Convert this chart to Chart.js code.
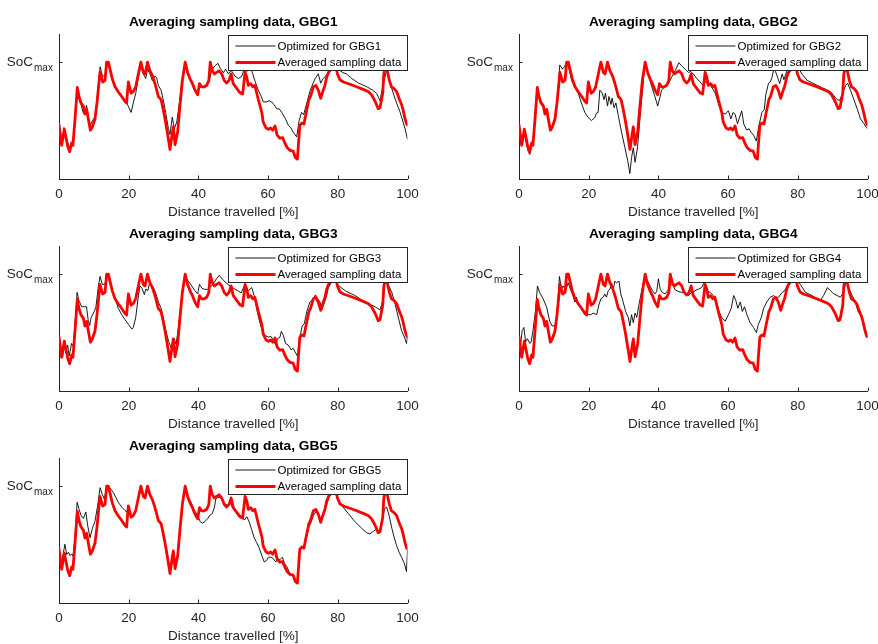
<!DOCTYPE html>
<html>
<head>
<meta charset="utf-8">
<script src="https://cdn.jsdelivr.net/npm/chart.js@4.4.1/dist/chart.umd.min.js"></script>
<style>
  html, body { margin: 0; padding: 0; background: #fff; width: 878px; height: 644px; overflow: hidden; }
  canvas { position: absolute; }
</style>
</head>
<body>
<canvas id="p1" width="430" height="222" style="left:0px;top:0px"></canvas>
<canvas id="p2" width="430" height="222" style="left:460px;top:0px"></canvas>
<canvas id="p3" width="430" height="222" style="left:0px;top:212px"></canvas>
<canvas id="p4" width="430" height="222" style="left:460px;top:212px"></canvas>
<canvas id="p5" width="430" height="222" style="left:0px;top:424px"></canvas>
<script>
// Distance travelled [%] vs state of charge (SoC_max = 100)
const xTicks = [0, 20, 40, 60, 80, 100];
const socMax = 100;
const yMax = 124;

const averaged = [[0,46.4],[0.77,28.9],[1.53,42.6],[2.1,34.3],[2.5,28.0],[3.06,23.4],[3.63,30.8],[4.0,28.9],[4.6,51.4],[5.26,78.3],[5.74,70.6],[6.3,65.1],[6.98,62.4],[7.46,55.5],[7.94,59.6],[8.42,51.4],[9.0,41.8],[9.56,44.5],[10.33,51.4],[10.9,65.1],[11.76,91.2],[12.53,83.0],[13.2,84.4],[13.68,100],[14.16,100],[14.63,94.0],[15.3,85.7],[16.07,78.9],[17.0,74.7],[18.0,70.6],[18.9,66.5],[19.4,65.1],[19.9,83.0],[20.7,73.4],[21.3,74.7],[22.0,78.9],[22.96,92.6],[23.5,100],[24.2,91.2],[24.7,89.9],[25.4,100],[26.1,92.6],[26.8,88.5],[27.4,83.0],[27.8,78.9],[28.5,70.6],[29.3,67.9],[29.9,59.6],[30.6,48.6],[31.2,37.6],[31.85,25.3],[32.3,34.9],[32.8,44.5],[33.3,29.4],[34.05,40.4],[34.7,62.4],[35.4,84.4],[36.2,100],[36.9,91.2],[37.6,85.7],[38.3,81.6],[39.0,76.1],[39.8,72.0],[40.3,81.6],[40.9,78.9],[41.7,78.9],[42.4,80.2],[43.0,84.4],[43.4,100],[44.0,92.6],[44.6,89.9],[45.2,91.2],[45.9,92.6],[46.7,89.9],[47.4,84.4],[48.1,82.2],[48.8,84.4],[49.4,89.9],[50.0,81.6],[51.0,77.5],[51.9,73.9],[52.7,72.8],[53.4,91.2],[53.9,87.1],[54.3,80.2],[55.0,81.6],[55.6,78.9],[56.2,80.2],[57.2,67.9],[58.2,56.9],[58.6,48.6],[59.4,43.7],[60.1,42.6],[60.7,43.7],[61.3,41.8],[62.0,45.3],[62.6,37.6],[63.4,34.9],[64.2,35.4],[64.8,30.8],[65.5,26.7],[66.3,24.5],[67.2,23.9],[67.8,18.4],[68.4,17.0],[69.1,46],[69.7,48],[70.3,47],[70.8,55],[71.3,62],[71.7,68],[72.2,71],[73.0,79],[73.7,80],[74.4,76],[75.1,69],[75.7,75],[76.3,80],[76.8,87],[77.3,91],[77.8,93],[78.2,94],[78.9,98],[79.2,100],[79.9,89.9],[80.6,84.9],[81.6,83.0],[83.5,81.1],[85.4,78.9],[87.3,76.7],[88.8,74.7],[89.7,72.0],[90.7,66.5],[91.6,60.2],[92.1,61.0],[92.9,73.4],[93.2,89.9],[93.6,95],[94.2,92.6],[94.8,84.4],[95.4,78.9],[96.1,77.5],[96.9,74.7],[97.7,67.9],[98.3,63.8],[98.8,58.3],[99.3,51.4],[99.8,46.7],[100,46.4]];

const optimizedGBG1 = [[0,46],[0.6,33],[0.9,30],[1.4,44],[2.0,35],[2.6,30],[3.0,27],[3.6,31],[4.1,32],[4.6,52],[5.3,72],[5.8,68],[6.4,63],[6.9,57],[7.4,55],[7.9,63],[8.4,52],[9.0,46],[9.6,50],[10.3,53],[10.9,68],[11.8,96],[12.5,88],[13.2,88],[13.7,99],[14.2,99],[14.7,92],[15.3,86],[16.1,80],[17,75],[18,71],[19,67],[19.6,64],[20.7,57],[21.3,65],[22.0,73],[22.8,87],[23.5,97],[24.2,90],[24.9,86],[25.4,94],[26.1,90],[26.8,84],[27.5,88],[28.0,87],[28.5,80],[29.3,76],[29.9,68],[30.6,57],[31.4,43],[31.85,38],[32.5,53],[33.1,43],[33.8,49],[34.4,62],[35.2,82],[36.2,98],[36.9,90],[37.6,86],[38.3,82],[39.0,77],[39.8,74],[40.3,79],[41.0,79],[41.7,78],[42.4,80],[43.0,83],[43.8,93],[44.8,97],[45.6,99],[46.2,95],[47.2,91],[47.8,94],[48.6,90],[49.4,93],[50.5,88],[51.5,86],[52.5,88],[53.3,96],[53.9,92],[54.4,94],[55.0,95],[55.6,90],[56.2,84],[57.2,76],[58.0,71],[58.6,66],[59.6,66],[60.3,67],[61.0,66],[61.6,64],[62.5,60],[63.2,60],[63.9,57],[64.9,52],[65.8,46],[66.5,44],[67.2,40],[68.2,36],[68.9,50],[69.6,57],[70.2,55],[71.1,65],[72.0,75],[72.5,79],[73.5,86],[74.4,90],[75.1,82],[75.8,86],[76.5,88],[77.5,92],[78.4,94],[79.2,97],[80.0,94],[81.5,91],[82.5,90],[84,86],[86,82],[88.3,79],[90,76],[91.2,73],[92.1,67],[93.1,82],[94.0,93],[95.0,82],[96.5,68],[97.9,57],[99.3,43],[100,34]];

const optimizedGBG2 = [[0,46],[0.6,33],[0.9,29],[1.5,40],[2.0,32],[2.6,24],[3.1,21],[3.6,28],[4.1,30],[4.6,50],[5.3,77],[5.8,70],[6.4,66],[7.0,64],[7.5,56],[8.0,60],[8.5,51],[9.0,42],[9.6,45],[10.3,52],[10.9,65],[11.7,97.6],[12.5,94],[13.0,96],[13.6,99.5],[14.3,95],[15.1,84.4],[16.0,78.9],[17.0,73.4],[17.9,65.1],[18.9,56.9],[19.8,52.8],[20.8,50],[21.8,52.8],[22.2,56.3],[22.7,56.9],[23.2,76.1],[23.9,73.4],[24.4,67.9],[24.8,73.4],[25.4,62.4],[25.8,70.6],[26.4,63.8],[26.7,69.3],[27.3,61.0],[27.8,65.1],[28.5,54.1],[29.4,40.4],[30.4,26.7],[31.2,15.7],[31.8,4.7],[32.3,18.4],[32.8,26.7],[33.3,14.3],[34.0,26.7],[34.7,51.4],[35.7,84.4],[36.1,98],[37.1,89.9],[38.1,78.9],[39.0,70.6],[39.8,62.4],[40.5,70.6],[40.9,76.1],[41.9,78.9],[42.9,81.6],[43.8,87.1],[44.8,92.6],[45.9,99.5],[46.7,96.7],[47.7,94.0],[48.6,91.2],[49.3,92],[50.0,89.9],[51.0,86],[52.0,83],[52.8,80],[53.4,84],[54.1,81],[54.9,80.2],[55.6,77],[56.3,73.4],[57.3,63.8],[58.2,56.9],[59.2,55.5],[59.6,57],[60.1,58.3],[60.8,51.4],[61.4,56.9],[62.0,55.5],[62.7,47.3],[63.2,52],[63.9,58.3],[64.5,47],[65.3,42],[66.0,43],[66.6,40],[67.3,37.6],[68.1,32.5],[68.8,45],[69.7,56.9],[70.4,59.6],[70.8,72],[71.6,82],[72.1,83],[72.6,87],[73.1,94.0],[73.6,92],[74.2,87.1],[74.8,81.6],[75.5,89.9],[76.0,85],[76.9,92.6],[77.9,95.4],[78.8,98.6],[79.8,96.7],[81.2,89.9],[82.7,84.4],[85.5,80.2],[89.4,74.7],[91.3,67.9],[92.0,67.3],[92.7,72.0],[93.7,80],[94.3,82],[95.1,76.1],[96.1,67.9],[97.1,59.6],[98.0,51.4],[99.0,47.3],[99.7,44],[100,43]];

const optimizedGBG3 = [[0,46],[0.6,32.5],[1.0,28.4],[1.5,40.7],[1.9,32.5],[2.5,39.3],[2.9,30],[3.2,34],[3.6,40.7],[4.1,38],[4.6,57.1],[5.2,84.4],[5.7,77.6],[6.5,72.1],[7.3,72.1],[7.9,72.1],[8.4,60],[8.8,56],[9.2,62.6],[10.1,68],[10.6,72],[11.3,89.9],[11.8,98.1],[12.4,91.3],[13.2,91.3],[13.7,99.5],[14.3,95.4],[15.1,87.2],[16.1,79],[17.0,70.8],[18.0,65.3],[18.9,61.2],[19.9,57.1],[20.9,53],[21.3,54.4],[22.0,62.6],[22.8,81.7],[23.2,89.9],[23.8,88],[24.5,82.5],[24.9,87.2],[25.5,86],[26.1,94],[26.6,90],[27.1,88.5],[27.7,84.4],[28.5,76.2],[29.3,70.8],[29.9,62.6],[30.9,48.9],[31.5,42],[32.3,36],[33.0,45],[33.6,40],[34.3,55],[35.0,75],[35.8,92],[36.2,98],[37.1,94],[38.1,89.9],[39.0,85.8],[39.8,83.1],[40.3,91.3],[41.0,88],[41.8,87],[42.7,87],[43.5,89],[44.2,91.6],[45.2,96],[46.0,99],[47.2,94.6],[48.2,92],[49.1,89.8],[50.0,88],[51.2,86],[52.3,84],[53.2,90.4],[54.3,85.8],[55.3,88.5],[56.0,81.7],[56.7,70.8],[57.4,61.2],[58.2,53],[59.1,47.5],[60.1,46.2],[60.8,46.7],[61.5,43.4],[62.2,39.3],[62.7,44.8],[63.4,46],[63.8,51],[64.4,47.5],[65.0,40.7],[65.8,39.3],[66.6,35.2],[67.2,36.6],[67.9,32.5],[68.4,30],[69.2,47.5],[69.8,55.7],[70.4,57.7],[71.1,68],[72.0,76.2],[73.0,79],[73.6,82.2],[74.2,79],[74.9,76.2],[75.4,69.4],[76.1,74.9],[76.8,81.7],[77.3,88.5],[78.1,92.6],[78.7,96.7],[79.2,98.1],[80.0,90.7],[82.1,85.8],[84.9,81.7],[87.8,76.2],[90.7,72.1],[92.1,69.4],[93.1,79],[93.5,92.6],[94.0,95.4],[94.5,90.7],[95.5,84.4],[96.4,74.9],[97.4,62.6],[98.3,51.6],[99.3,44.8],[99.7,40.7],[100,46]];

const optimizedGBG4 = [[0,44.8],[0.5,40.7],[0.9,51.6],[1.4,54.4],[1.9,42.1],[2.4,44.8],[3.1,40.7],[3.5,42],[4.0,51.6],[4.7,68],[5.3,89.9],[5.9,84.4],[6.9,79],[7.9,72.1],[8.8,59.8],[9.5,55.7],[10.3,55.7],[10.8,62.6],[11.2,79],[11.6,98],[12.2,87.2],[12.7,89.9],[13.4,86],[14.1,92.6],[14.9,85.8],[15.5,81.7],[16.0,76.2],[16.5,80.3],[17.0,74.9],[17.9,70.8],[18.9,65.3],[19.8,65.3],[20.6,65.3],[21.3,66.7],[22.3,65.3],[22.9,73.5],[23.5,79],[24.2,80.3],[24.6,83.1],[25.1,80.3],[25.6,85.8],[26.1,87.2],[26.6,92.6],[27.0,85.8],[27.5,94],[28.0,92.6],[28.7,94],[29.2,83.1],[29.9,76.2],[30.6,68],[31.4,62.6],[31.8,55.7],[32.3,65.3],[32.8,58.5],[33.3,66.7],[33.8,63],[34.4,73.5],[35.2,85.8],[36.1,98.1],[36.9,94],[37.6,89.9],[38.3,85.8],[39.0,83.1],[39.5,85],[40.0,96],[40.5,87.2],[41.1,84.4],[41.9,83.1],[42.7,85.8],[43.3,89.9],[44.0,91.3],[44.8,86.6],[45.7,85.2],[46.7,84.4],[47.7,84.4],[48.6,81.7],[49.6,84.4],[50.5,85.8],[51.5,87.2],[52.4,88.5],[53.3,94],[53.9,85.8],[54.8,84.4],[55.8,81.7],[56.8,74.9],[57.4,68],[58.2,62.6],[59.2,59.8],[60.1,65.3],[60.9,70.8],[61.6,81.7],[62.2,77.6],[62.8,70.8],[63.5,76.2],[64.1,68],[64.7,72.1],[65.4,65.3],[66.3,58.5],[67.3,54.4],[68.1,50],[68.7,57.1],[69.5,62.6],[70.2,70.8],[71.1,76.2],[72.1,80.3],[73.1,81.7],[73.7,79],[74.5,80.3],[75.5,84.4],[76.2,85.8],[76.9,89.9],[77.6,92.6],[78.3,95.4],[79.1,98.1],[79.8,95.4],[80.7,91.3],[82.2,84.4],[84.1,81.7],[85.5,79],[86.5,77.6],[87.4,81.7],[88.5,88.5],[89.4,85.8],[90.3,83.1],[91.3,81.7],[92.2,80.3],[92.9,83.1],[93.7,91.3],[94.2,94],[94.6,88.5],[95.6,81.7],[96.5,76.2],[97.3,68],[98.0,65.3],[98.7,58.5],[99.4,53],[100,46.2]];

const optimizedGBG5 = [[0,46.2],[0.8,32.3],[1.2,42],[1.7,50.3],[2.2,41.5],[2.7,43.4],[3.2,40.6],[3.6,42],[4.0,40],[4.6,55.8],[5.2,86.2],[5.7,80.7],[6.3,75.2],[7.0,72.4],[7.7,77.9],[8.2,66.9],[8.9,55.8],[9.6,64.1],[10.3,69.7],[11.1,83.5],[11.8,98.7],[12.4,93.1],[13.0,89],[13.7,98.7],[14.3,100],[14.9,97.3],[15.6,94.5],[16.3,90.4],[17.0,86.2],[18.0,82.1],[18.9,79.3],[19.4,77.9],[19.9,82],[20.7,74],[21.3,75],[22.0,79],[23.0,93],[23.5,99.5],[24.2,91],[24.7,90],[25.4,99],[26.1,92],[26.8,88],[27.4,82],[28.0,76],[28.5,72],[29.3,68],[29.9,60],[30.6,49],[31.2,38],[31.85,28],[32.3,35],[32.8,44],[33.3,32],[34.0,40],[34.7,62],[35.4,84],[36.2,99],[36.9,90.4],[37.9,86.2],[38.8,79.3],[39.8,75.2],[40.5,69.7],[41.1,68.3],[41.9,69.7],[42.7,72.4],[43.3,75.2],[44.0,76.6],[44.6,82.1],[45.0,89],[45.5,90.4],[46.2,90.4],[46.9,89],[47.6,84.9],[48.4,83.5],[49.1,86.2],[49.7,82.1],[50.5,79.3],[51.5,76.6],[52.4,73.8],[53.2,71],[53.9,73.8],[54.5,70],[55.3,62.7],[56.0,55.8],[56.7,51.7],[57.4,47.5],[58.2,40.6],[58.9,35.1],[59.6,36.5],[60.1,39.2],[60.8,39.2],[61.5,37.9],[62.2,35.1],[62.7,37.9],[63.4,37],[64.1,39.2],[64.7,33.7],[65.3,31.5],[66.3,25],[67.2,24],[67.8,19],[68.4,17.5],[69.1,45],[69.6,47],[70.1,46.2],[70.8,53],[71.3,60],[71.7,65],[72.2,68],[73.0,75],[73.7,78],[74.4,76],[75.1,70],[75.7,74],[76.3,79],[77.0,86],[77.6,92],[78.2,97.8],[78.9,99],[79.7,90.4],[81.1,83.5],[83.0,76.6],[84.9,69.7],[86.8,64.1],[88.3,60],[89.2,59.1],[90.2,61.4],[90.9,62.7],[92.1,60],[92.8,71],[93.4,80.7],[94.0,82.1],[94.7,75.2],[95.5,64.1],[96.2,55.8],[96.9,48.9],[97.6,43.4],[98.3,39.2],[99.1,33.7],[99.7,27],[100,45]];

const panels = [
  { id: 'p1', name: 'GBG1', optimized: optimizedGBG1 },
  { id: 'p2', name: 'GBG2', optimized: optimizedGBG2 },
  { id: 'p3', name: 'GBG3', optimized: optimizedGBG3 },
  { id: 'p4', name: 'GBG4', optimized: optimizedGBG4 },
  { id: 'p5', name: 'GBG5', optimized: optimizedGBG5 }
];

const FONT = '"Liberation Sans", Arial, Helvetica, sans-serif';
const AXIS = '#262626';
const RED = '#ff0000';

const toPoints = arr => arr.map(p => ({ x: p[0], y: p[1] }));

// Inward tick marks, the subscript of the y label and the legend box
const decorations = {
  id: 'decorations',
  afterDraw(chart, args, opts) {
    const { ctx, chartArea: ca, scales } = chart;
    const xs = scales.x, ys = scales.y;
    ctx.save();
    ctx.strokeStyle = AXIS;
    ctx.lineWidth = 1;
    ctx.beginPath();
    xTicks.forEach(v => {
      const px = Math.round(xs.getPixelForValue(v)) + 0.5;
      ctx.moveTo(px, ca.bottom);
      ctx.lineTo(px, ca.bottom - 3.5);
    });
    const py = Math.round(ys.getPixelForValue(socMax)) + 0.5;
    ctx.moveTo(ca.left, py);
    ctx.lineTo(ca.left + 3.5, py);
    ctx.stroke();

    // subscript "max" after the "SoC" tick label
    ctx.fillStyle = AXIS;
    ctx.font = '10px ' + FONT;
    ctx.textAlign = 'left';
    ctx.textBaseline = 'middle';
    ctx.fillText('max', ca.left - 25, ys.getPixelForValue(socMax) + 6);

    // legend
    const w = 179, h = 35;
    const left = Math.round(ca.right - 1 - w) + 0.5;
    const top = Math.round(ca.top + 1) + 0.5;
    ctx.fillStyle = '#ffffff';
    ctx.fillRect(left, top, w, h);
    ctx.strokeStyle = AXIS;
    ctx.lineWidth = 1;
    ctx.strokeRect(left, top, w, h);
    const rows = [
      { text: 'Optimized for ' + opts.name, color: '#000000', width: 0.9, y: top + 10.5 },
      { text: 'Averaged sampling data', color: RED, width: 2.8, y: top + 27 }
    ];
    rows.forEach(r => {
      ctx.beginPath();
      ctx.strokeStyle = r.color;
      ctx.lineWidth = r.width;
      ctx.moveTo(left + 7, r.y);
      ctx.lineTo(left + 47, r.y);
      ctx.stroke();
      ctx.fillStyle = '#000000';
      ctx.font = '11.5px ' + FONT;
      ctx.textAlign = 'left';
      ctx.textBaseline = 'middle';
      ctx.fillText(r.text, left + 49, r.y + 0.5);
    });
    ctx.restore();
  }
};

panels.forEach(p => {
  new Chart(document.getElementById(p.id), {
    type: 'line',
    data: {
      datasets: [
        {
          label: 'Averaged sampling data',
          data: toPoints(averaged),
          borderColor: RED,
          borderWidth: 2.8,
          pointRadius: 0,
          tension: 0,
          borderJoinStyle: 'round',
          borderCapStyle: 'round',
          order: 0
        },
        {
          label: 'Optimized for ' + p.name,
          data: toPoints(p.optimized),
          borderColor: '#000000',
          borderWidth: 0.9,
          pointRadius: 0,
          tension: 0,
          borderJoinStyle: 'round',
          order: 1
        }
      ]
    },
    options: {
      responsive: false,
      animation: false,
      devicePixelRatio: 1,
      events: [],
      layout: { padding: { left: 0, right: 22.5, top: 0, bottom: 0 } },
      plugins: {
        legend: { display: false },
        tooltip: { enabled: false },
        title: {
          display: true,
          text: 'Averaging sampling data, ' + p.name,
          fullSize: false,
          color: '#000000',
          font: { family: FONT, size: 13.7, weight: 'bold' },
          padding: { top: 9, bottom: 3.6 }
        },
        decorations: { name: p.name }
      },
      scales: {
        x: {
          type: 'linear',
          min: 0,
          max: 100,
          afterBuildTicks: s => { s.ticks = xTicks.map(v => ({ value: v })); },
          afterFit: s => { s.height = 43; },
          ticks: {
            color: AXIS,
            font: { family: FONT, size: 13.5 },
            padding: 7,
            maxRotation: 0,
            autoSkip: false
          },
          grid: { display: false, drawTicks: false, tickLength: 0 },
          border: { display: true, color: AXIS, width: 1 },
          title: {
            display: true,
            text: 'Distance travelled [%]',
            color: AXIS,
            font: { family: FONT, size: 13.5 },
            padding: { top: 0, bottom: 2 }
          }
        },
        y: {
          type: 'linear',
          min: 0,
          max: yMax,
          afterBuildTicks: s => { s.ticks = [{ value: socMax }]; },
          afterFit: s => { s.width = 59; },
          ticks: {
            color: AXIS,
            font: { family: FONT, size: 13.5 },
            padding: 26,
            callback: () => 'SoC'
          },
          grid: { display: false, drawTicks: false, tickLength: 0 },
          border: { display: true, color: AXIS, width: 1 }
        }
      }
    },
    plugins: [decorations]
  });
});
</script>
</body>
</html>
